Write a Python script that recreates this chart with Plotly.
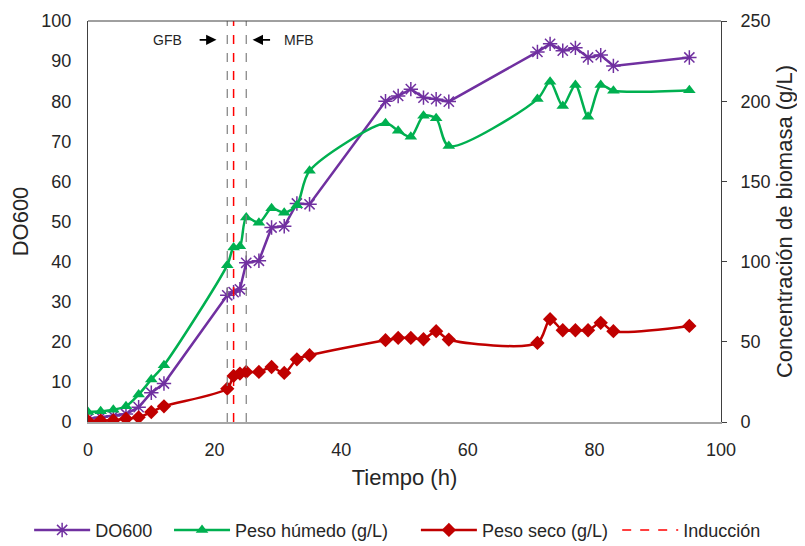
import plotly.graph_objects as go

# ---- data ----
tiempo = [0, 2, 4, 6, 8, 10, 12, 22, 23, 24, 25, 27, 29, 31, 33, 35,
          47, 49, 51, 53, 55, 57, 71, 73, 75, 77, 79, 81, 83, 95]
do600 = [0.8, 1.2, 1.5, 2.0, 3.7, 7.3, 9.6, 31.6, 32.4, 33.1, 39.7, 40.2, 48.5, 48.8, 54.5, 54.3,
         80.0, 81.3, 83.0, 80.9, 80.5, 79.9, 92.3, 94.3, 92.6, 93.3, 90.9, 91.5, 88.8, 90.9]
peso_humedo = [6.2, 6.7, 7.7, 9.8, 17.1, 26.5, 35.4, 97.8, 108.8, 109.6, 127.5, 124.2, 133.2, 130.4, 135.2, 156.6,
               186.2, 181.6, 177.8, 190.9, 189.3, 172.0, 201.3, 212.1, 197.0, 210.1, 190.3, 210.1, 206.5, 206.9]
peso_seco = [0.5, 0.9, 1.0, 2.1, 2.9, 6.2, 9.8, 20.8, 28.7, 30.2, 31.2, 31.2, 34.3, 30.6, 39.1, 41.6,
             51.0, 52.4, 52.4, 51.6, 56.6, 51.4, 49.3, 64.1, 57.2, 57.2, 57.2, 61.8, 56.6, 59.9]
induccion_t = 23
gfb_t = 22
mfb_t = 25

FONT = "Liberation Sans, Arial, sans-serif"
TXT = "#262626"

fig = go.Figure()
fig.add_trace(go.Scatter(
    x=tiempo, y=do600, name="DO600", mode="lines+markers", legend="legend",
    line=dict(color="#7030A0", width=2.5),
    marker=dict(symbol="asterisk-open", size=12, color="#7030A0", line=dict(width=1.5, color="#7030A0")),
))
fig.add_trace(go.Scatter(
    x=tiempo, y=peso_humedo, name="Peso húmedo (g/L)", mode="lines+markers", yaxis="y2", legend="legend2",
    line=dict(color="#00B050", width=2.5, shape="spline", smoothing=0.8),
    marker=dict(symbol="triangle-up", size=11, color="#00B050"),
))
fig.add_trace(go.Scatter(
    x=tiempo, y=peso_seco, name="Peso seco (g/L)", mode="lines+markers", yaxis="y2", legend="legend3",
    line=dict(color="#C00000", width=2.5, shape="spline", smoothing=0.8),
    marker=dict(symbol="diamond", size=11, color="#C00000"),
))
fig.add_trace(go.Scatter(
    x=[induccion_t, induccion_t], y=[0, 100], name="Inducción", mode="lines", legend="legend4",
    line=dict(color="#FF0000", width=1.5, dash="dash"),
))

for t in (gfb_t, mfb_t):
    fig.add_shape(type="line", x0=t, x1=t, y0=0, y1=1, xref="x", yref="paper",
                  line=dict(color="#7F7F7F", width=1.2, dash="dash"))
# top border
fig.add_shape(type="line", x0=0, x1=1, y0=1, y1=1, xref="paper", yref="paper",
              line=dict(color="#404040", width=1))

fig.add_annotation(x=20.3, y=95.3, ax=17.4, ay=95.3, xref="x", yref="y", axref="x", ayref="y",
                   showarrow=True, arrowhead=2, arrowsize=1.3, arrowwidth=1.6, arrowcolor="black", text="")
fig.add_annotation(x=26.0, y=95.3, ax=29.0, ay=95.3, xref="x", yref="y", axref="x", ayref="y",
                   showarrow=True, arrowhead=2, arrowsize=1.3, arrowwidth=1.6, arrowcolor="black", text="")
fig.add_annotation(x=12.6, y=95.3, xref="x", yref="y", text="GFB", showarrow=False,
                   font=dict(family=FONT, size=14, color=TXT))
fig.add_annotation(x=33.4, y=95.3, xref="x", yref="y", text="MFB", showarrow=False,
                   font=dict(family=FONT, size=14, color=TXT))

leg_common = dict(orientation="h", xanchor="left", y=-0.27, yanchor="middle",
                  font=dict(size=18), itemwidth=56, bgcolor="rgba(0,0,0,0)")

# page body has an 8px margin: figure is drawn at (8, 8) in the window
fig.update_layout(
    width=797, height=538,
    margin=dict(l=80, r=84, t=13, b=124, autoexpand=False),
    paper_bgcolor="white", plot_bgcolor="white",
    font=dict(family=FONT, size=18, color=TXT),
    showlegend=True,
    legend=dict(x=-0.093, **leg_common),
    legend2=dict(x=0.128, **leg_common),
    legend3=dict(x=0.518, **leg_common),
    legend4=dict(x=0.836, **leg_common),
    xaxis=dict(range=[0, 100], dtick=20, showgrid=False, zeroline=False,
               showline=True, linecolor="#A6A6A6", linewidth=2, ticks="",
               ticklabelstandoff=10,
               title=dict(text="Tiempo (h)", standoff=11)),
    yaxis=dict(range=[0, 100], dtick=10, showgrid=False, zeroline=False,
               showline=True, linecolor="#404040", linewidth=1, ticks="",
               ticklabelstandoff=12,
               title=dict(text="DO600", standoff=10)),
    yaxis2=dict(range=[0, 250], dtick=50, overlaying="y", side="right", showgrid=False, zeroline=False,
                showline=True, linecolor="#404040", linewidth=1, ticks="outside", ticklen=5,
                tickcolor="#404040", ticklabelstandoff=10,
                title=dict(text="Concentración de biomasa (g/L)", standoff=6)),
)

fig.write_html("out.html")
